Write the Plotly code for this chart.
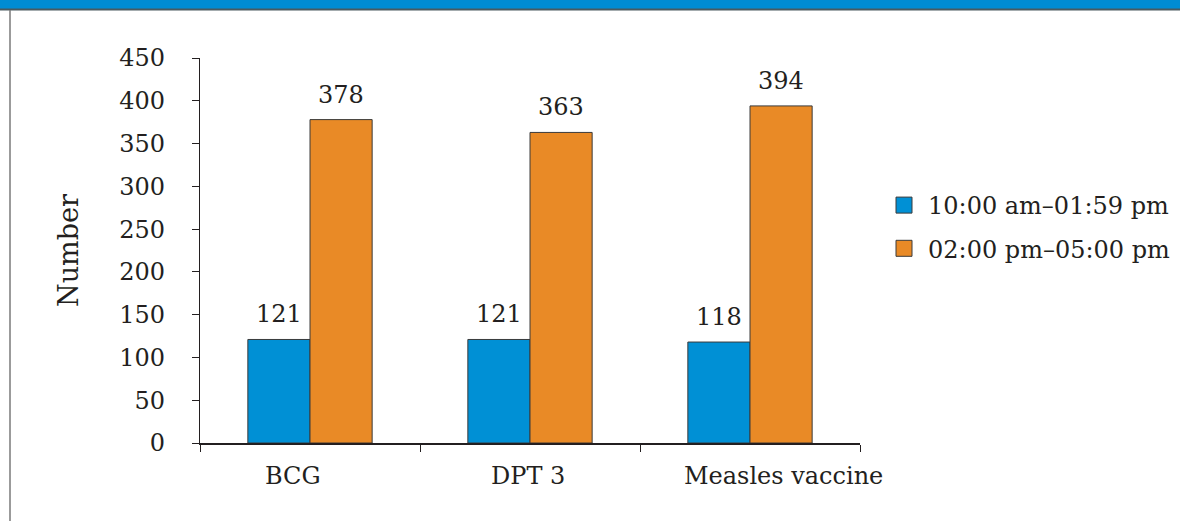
import plotly.graph_objects as go

# Vaccination counts by session time
vaccines = ["BCG", "DPT 3", "Measles vaccine"]
morning = [121, 121, 118]
afternoon = [378, 363, 394]
series_names = ["10:00 am\u201301:59 pm", "02:00 pm\u201305:00 pm"]
y_ticks = [0, 50, 100, 150, 200, 250, 300, 350, 400, 450]

BLUE = "#0090d5"
ORANGE = "#e98a26"
EDGE = "#3a3a3a"
INK = "#231f20"
FONT = "DejaVu Serif"

W, H = 1180, 521
L, R, T, B = 200, 320, 58, 78
pw, ph = W - L - R, H - T - B
BARGAP = 0.435


def px_x(p):
    return (p - L) / pw


def px_y(p):
    return (H - B - p) / ph


fig = go.Figure()
annotations = []
offsets = [-0.5, 0.5]
for k, (vals, color, name) in enumerate([(morning, BLUE, series_names[0]),
                                         (afternoon, ORANGE, series_names[1])]):
    fig.add_trace(go.Bar(
        x=vaccines, y=vals, name=name, showlegend=False,
        offsetgroup=str(k),
        marker=dict(color=color, line=dict(color=EDGE, width=1)),
    ))
    # legend swatch
    fig.add_trace(go.Scatter(
        x=[None], y=[None], mode="markers", name=name, legendgroup=str(k),
        marker=dict(symbol="square", size=17, color=color, line=dict(color=EDGE, width=1)),
    ))
    # value labels above each bar
    bar_w = (1 - BARGAP) / 2
    for i, v in enumerate(vals):
        annotations.append(dict(
            x=i + offsets[k] * bar_w, y=v, xref="x", yref="y",
            text=str(v), showarrow=False, yanchor="bottom", yshift=9,
            font=dict(family=FONT, size=24, color=INK),
        ))

# category labels under the axis (hand-placed horizontally)
label_shift = [-17, -2, 33]
for i, (cat, dx) in enumerate(zip(vaccines, label_shift)):
    annotations.append(dict(
        x=cat, y=0, xref="x", yref="y", text=cat, showarrow=False,
        yanchor="top", yshift=-17, xshift=dx,
        font=dict(family=FONT, size=24, color=INK),
    ))

shapes = [
    # title band across the top
    dict(type="rect", xref="paper", yref="paper",
         x0=px_x(-2), x1=px_x(W + 2), y0=px_y(9), y1=px_y(-2),
         fillcolor="#008cd3", line=dict(width=0)),
    dict(type="line", xref="paper", yref="paper",
         x0=px_x(-2), x1=px_x(W + 2), y0=px_y(9.5), y1=px_y(9.5),
         line=dict(color="#4a5a60", width=2)),
    # panel border on the left
    dict(type="line", xref="paper", yref="paper",
         x0=px_x(10), x1=px_x(10), y0=px_y(10), y1=px_y(H + 2),
         line=dict(color="#7a7a7a", width=1.5)),
]

fig.update_layout(
    width=W, height=H,
    margin=dict(l=L, r=R, t=T, b=B, autoexpand=False),
    paper_bgcolor="white", plot_bgcolor="white",
    font=dict(family=FONT, size=24, color=INK),
    barmode="group", bargap=BARGAP, bargroupgap=0,
    showlegend=True,
    legend=dict(x=px_x(880), y=px_y(183), xanchor="left", yanchor="top",
                font=dict(family=FONT, size=24, color=INK),
                tracegroupgap=9, traceorder="grouped",
                bgcolor="rgba(0,0,0,0)", itemwidth=38),
    shapes=shapes,
    annotations=annotations,
)

fig.update_xaxes(
    type="category", range=[-0.5, 2.5],
    showline=True, linecolor=INK, linewidth=1.5,
    ticks="outside", ticklen=7, tickcolor=INK, tickwidth=1.2,
    tickson="boundaries", showgrid=False, zeroline=False,
    showticklabels=False,
)
fig.update_yaxes(
    range=[0, 450], tickvals=y_ticks,
    showline=True, linecolor=INK, linewidth=1.2,
    ticks="outside", ticklen=7, tickcolor=INK, tickwidth=1.2,
    showgrid=False, zeroline=False,
    tickfont=dict(family=FONT, size=24, color=INK),
    ticklabelstandoff=22,
    title=dict(text="Number", font=dict(family=FONT, size=27, color=INK), standoff=32),
)

fig.write_html("out.html")
